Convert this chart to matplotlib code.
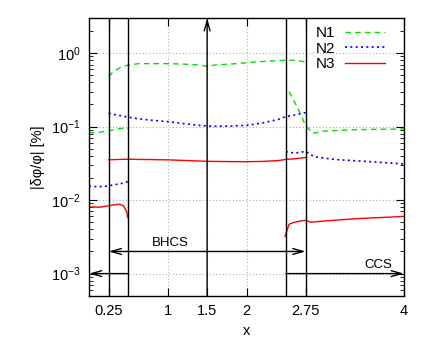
import matplotlib
matplotlib.use("Agg")
import matplotlib.pyplot as plt
from matplotlib.ticker import LogLocator, NullFormatter

plt.rcParams['font.family'] = ['Liberation Sans', 'DejaVu Sans']
plt.rcParams['mathtext.default'] = 'regular'
plt.rcParams['font.size'] = 10.5

# Segment A: 0 .. 0.5
xA = [0.0, 0.1, 0.2, 0.3, 0.4, 0.45, 0.5]
n1A = [0.082, 0.083, 0.086, 0.090, 0.094, 0.095, 0.094]
n2A = [0.0155, 0.0152, 0.0154, 0.0160, 0.0167, 0.0173, 0.0180]
xA3 = [0.0, 0.14, 0.31, 0.39, 0.44, 0.48, 0.49]
n3A = [0.0081, 0.0080, 0.0086, 0.0088, 0.0083, 0.0069, 0.0058]

# Segment B: 0.25 .. 2.75
xB = [0.25, 0.3, 0.4, 0.5, 0.63, 0.8, 1.0, 1.2, 1.4, 1.5, 1.6, 1.8, 2.0, 2.2, 2.4, 2.5, 2.6, 2.75]
n1B = [0.48, 0.55, 0.64, 0.69, 0.72, 0.72, 0.72, 0.71, 0.69, 0.66, 0.69, 0.71, 0.74, 0.77, 0.79, 0.80, 0.80, 0.76]
n2B = [0.152, 0.148, 0.141, 0.134, 0.128, 0.122, 0.117, 0.110, 0.104, 0.102, 0.101, 0.102, 0.104, 0.112, 0.125, 0.137, 0.143, 0.155]
n3B = [0.0353, 0.0355, 0.0358, 0.0360, 0.0358, 0.0356, 0.0353, 0.0347, 0.0340, 0.0337, 0.0336, 0.0334, 0.0333, 0.0336, 0.0345, 0.0358, 0.0364, 0.0380]

# Segment C: 2.5 .. 4
xC1 = [2.54, 2.65, 2.75, 2.84, 2.99, 3.41, 4.0]
n1C = [0.30, 0.18, 0.104, 0.081, 0.087, 0.091, 0.093]
xC2 = [2.5, 2.61, 2.75, 2.86, 3.11, 3.58, 4.0]
n2C = [0.046, 0.0435, 0.046, 0.039, 0.0358, 0.0333, 0.031]
xC3 = [2.49, 2.54, 2.61, 2.69, 2.75, 2.82, 2.99, 3.41, 4.0]
n3C = [0.0032, 0.0047, 0.0050, 0.0052, 0.0053, 0.0050, 0.0052, 0.0056, 0.0060]

xticks = [0.25, 1, 1.5, 2, 2.75, 4]
xticklabels = ['0.25', '1', '1.5', '2', '2.75', '4']
vlines = [0.25, 0.5, 2.5, 2.75]

fig = plt.figure(figsize=(4.29, 3.41), dpi=100)
ax = fig.add_axes([0.2075, 0.1328, 0.7342, 0.8142])

c1, c2, c3 = '#00e000', '#0000ff', '#ff0000'
ax.plot(xA, n1A, color=c1, ls=(0, (4, 3)), lw=1, label='N1')
ax.plot(xB, n1B, color=c1, ls=(0, (4, 3)), lw=1)
ax.plot(xC1, n1C, color=c1, ls=(0, (4, 3)), lw=1)
ax.plot(xA, n2A, color=c2, ls=(0, (1.2, 2)), lw=1.2, label='N2')
ax.plot(xB, n2B, color=c2, ls=(0, (1.2, 2)), lw=1.2)
ax.plot(xC2, n2C, color=c2, ls=(0, (1.2, 2)), lw=1.2)
ax.plot(xA3, n3A, color=c3, lw=1, label='N3')
ax.plot(xB, n3B, color=c3, lw=1)
ax.plot(xC3, n3C, color=c3, lw=1)

ax.set_yscale('log')
ax.set_xlim(0, 4)
ax.set_ylim(5e-4, 3)
ax.set_xticks(xticks)
ax.set_xticklabels(xticklabels)
ax.yaxis.set_major_locator(LogLocator(base=10, numticks=10))
ax.yaxis.set_minor_locator(LogLocator(base=10, subs=range(2, 10), numticks=20))
ax.yaxis.set_minor_formatter(NullFormatter())
ax.tick_params(which='both', direction='in', top=True, right=True)
ax.tick_params(which='major', length=6, pad=6)
ax.tick_params(which='minor', length=3)
ax.grid(True, which='major', color='#b0b0b0', ls=(0, (1, 2)), lw=0.8)

for v in vlines:
    ax.axvline(v, color='black', lw=1)

arrow_kw = dict(arrowstyle='->,head_length=0.7,head_width=0.2', color='black', lw=1, shrinkA=0, shrinkB=0)
ax.annotate('', xy=(1.5, 3), xytext=(1.5, 5e-4), arrowprops=arrow_kw, annotation_clip=False)
ax.annotate('', xy=(0.25, 2e-3), xytext=(2.75, 2e-3),
            arrowprops=dict(arrowstyle='<->,head_length=0.7,head_width=0.2', color='black', lw=1, shrinkA=0, shrinkB=0))
ax.annotate('', xy=(0.0, 1e-3), xytext=(0.5, 1e-3), arrowprops=arrow_kw, annotation_clip=False)
ax.annotate('', xy=(4.0, 1e-3), xytext=(2.5, 1e-3), arrowprops=arrow_kw, annotation_clip=False)
ax.text(1.03, 2.15e-3, 'BHCS', ha='center', va='bottom', fontsize=9.5)
ax.text(3.67, 1.08e-3, 'CCS', ha='center', va='bottom', fontsize=9.5)

for s in ax.spines.values():
    s.set_linewidth(1)

ax.set_xlabel('x', labelpad=4)
ax.set_ylabel('|δφ/φ| [%]', labelpad=4)

leg = ax.legend(loc='upper right', bbox_to_anchor=(1.0, 1.04), frameon=False, markerfirst=False,
                handlelength=2.6, handletextpad=0.65, labelspacing=0.1, fontsize=11, borderaxespad=0.85)

fig.savefig('out.png', dpi=100)
